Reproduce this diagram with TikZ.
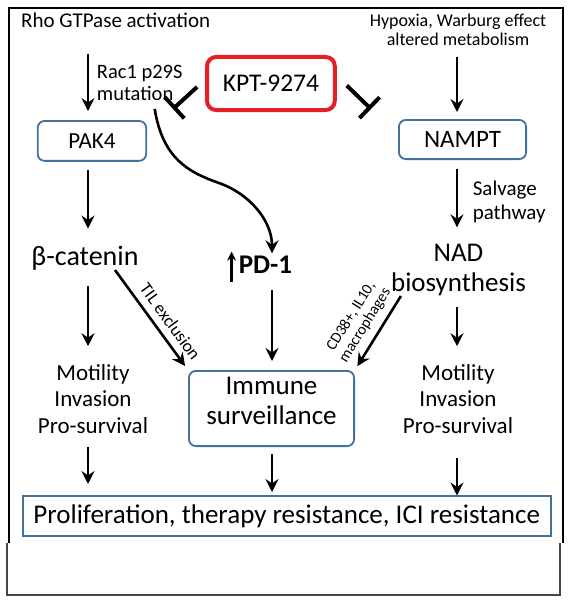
\documentclass[tikz,border=0pt]{standalone}
\usepackage{fontspec}
\setmainfont{Carlito}
\usepackage{tikz}
\usetikzlibrary{arrows.meta, positioning}
\usepackage{xcolor}
\definecolor{BoxBlue}{RGB}{65, 113, 156}
\definecolor{KptRed}{RGB}{228, 32, 38}
\definecolor{RichBlack}{RGB}{0, 0, 0}
\definecolor{FrameGrey}{RGB}{70, 70, 70}
\tikzset{%
  path_block/.style={%
    rectangle,%
    rounded corners=7pt,%
    draw=BoxBlue,%
    line width=1.8pt,%
    fill=white,%
    inner sep=0pt,%
    align=center,%
  },
  result_block/.style={%
    rectangle,%
    draw=BoxBlue,%
    line width=2pt,%
    inner sep=0pt,%
    font={\fontsize{27}{30}\selectfont},%
  },
  drug_block/.style={%
    rectangle,%
    rounded corners=9pt,%
    draw=KptRed,%
    line width=4pt,%
    fill=white,%
    inner sep=0pt,%
    font={\fontsize{25.5}{28}\selectfont},%
  },
  plain_text/.style={%
    inner sep=0pt,%
    align=center,%
  },
  edge_annotate/.style={%
    color=RichBlack,%
    align=center,%
  },
  arrow/.style={%
    -{Stealth[length=13pt, width=13pt, inset=4.5pt]},%
    line width=2.6pt,%
    color=RichBlack,%
  },
  small_arrow/.style={%
    -{Stealth[length=9pt, width=9pt, inset=3pt]},%
    line width=2.4pt,%
    color=RichBlack,%
  },
  inhibit/.style={%
    -{Bar[width=29pt]},%
    line width=4pt,%
    color=RichBlack,%
  },
}

\begin{document}
\begin{tikzpicture}[x=1pt, y=-1pt]
  \useasboundingbox (0,0) rectangle (572,602);

  % outer frame
  \draw [line width=2.8pt, RichBlack] (9,543) -- (9,8) -- (563,8) -- (563,543);
  \draw [line width=1.2pt, FrameGrey] (7,543) -- (7,595) -- (560,595) -- (560,543);

  % columns of the vertical arrows
  \coordinate (colL) at (88,0);
  \coordinate (colM) at (272,0);
  \coordinate (colR) at (457,0);

  % inputs
  \node [plain_text, anchor=base west, font={\fontsize{21}{24}\selectfont}]
    (rho) at (21,28) {Rho GTPase activation};
  \node [plain_text, font={\fontsize{18}{19}\selectfont}]
    (hypoxia) at (458,30) {Hypoxia, Warburg effect\\altered metabolism};
  \node [plain_text, anchor=west, align=left, font={\fontsize{20.5}{22}\selectfont}]
    (rac) at (96.7,83) {Rac1 p29S\\mutation};

  % drug and targets
  \node [drug_block, minimum width=127.7pt, minimum height=53pt]
    (kpt) at (270.9,83.5) {KPT-9274};
  \node [path_block, minimum width=108.5pt, minimum height=39.9pt,
    font={\fontsize{23}{26}\selectfont}] (pak4) at (91.9,140.9) {PAK4};
  \node [path_block, minimum width=127.2pt, minimum height=39.2pt,
    font={\fontsize{25}{28}\selectfont}] (nampt) at (462.5,139.5) {NAMPT};

  % middle row
  \node [plain_text, anchor=base, font={\fontsize{28}{30}\selectfont}]
    (beta) at (85,265) {β-catenin};
  \node [plain_text, anchor=base, font={\bfseries\fontsize{27}{30}\selectfont}]
    (pd1) at (265.5,273) {PD-1};
  \node [plain_text, anchor=west, align=left, font={\fontsize{21}{23.5}\selectfont}]
    (salvage) at (472.6,202) {Salvage\\pathway};
  \node [plain_text, font={\fontsize{27}{30}\selectfont}]
    (nad) at (458.5,270) {NAD\\biosynthesis};

  % outcomes
  \node [plain_text, font={\fontsize{23}{26.5}\selectfont}]
    (motL) at (93,399) {Motility\\Invasion\\Pro-survival};
  \node [plain_text, font={\fontsize{23}{26.5}\selectfont}]
    (motR) at (458,399) {Motility\\Invasion\\Pro-survival};
  \node [path_block, minimum width=165.2pt, minimum height=75.2pt,
    font={\fontsize{27}{30}\selectfont}]
    (immune) at (271.5,408.5) {Immune\\surveillance\rule[-16pt]{0pt}{16pt}};
  \node [result_block, minimum width=528pt, minimum height=40pt]
    (result) at (286.7,516) {Proliferation, therapy resistance, ICI resistance};

  % inhibition by the drug
  \coordinate (pak_block) at (173,109);
  \coordinate (nampt_block) at (371,109);
  \draw [inhibit] ([shift={(-8,3.5)}]kpt.west) -- (pak_block);
  \draw [inhibit] ([shift={(10,2)}]kpt.east) -- (nampt_block);

  % upstream arrows
  \draw [arrow, shorten <=25.6pt, shorten >=9pt]
    (rho.south -| colL) -- (pak4.north -| colL);
  \draw [arrow, shorten <=11pt, shorten >=7pt]
    (hypoxia.south -| colR) -- (nampt.north -| colR);
  \draw [arrow, shorten >=2pt]
    ([shift={(15,8)}]rac.south)
    .. controls +(8,50) and +(-30,-10.5) ..
    (219,183)
    .. controls +(30,10.5) and +(0,-35) ..
    (pd1.north -| colM);

  % left column
  \draw [arrow, shorten <=8pt, shorten >=17pt]
    (pak4.south -| colL) -- (beta.north -| colL);
  \draw [arrow, shorten <=16pt, shorten >=18pt]
    (beta.south -| colL) -- (motL.north -| colL);
  \draw [arrow, shorten <=13pt, shorten >=11pt]
    (motL.south -| colL) -- (result.north -| colL);

  % right column
  \draw [arrow, shorten <=9pt, shorten >=16.6pt]
    (nampt.south -| colR) -- (nad.north -| colR);
  \draw [arrow, shorten <=10.6pt, shorten >=18pt]
    (nad.south -| colR) -- (motR.north -| colR);
  \draw [arrow, shorten <=24pt, shorten >=-0.5pt]
    (motR.south -| colR) -- (result.north -| colR);

  % middle column
  \draw [small_arrow]
    ([shift={(-7,9)}]pd1.south west) -- ([shift={(-7,-3.6)}]pd1.north west);
  \draw [arrow, shorten <=17pt, shorten >=9pt]
    (pd1.south -| colM) -- (immune.north -| colM);
  \draw [arrow, shorten <=7pt, shorten >=3pt]
    (immune.south -| colM) -- (result.north -| colM);

  % immune modulation
  \draw [arrow, shorten >=5pt]
    ([xshift=30pt]beta.south) -- (immune.north west)
    node [edge_annotate, pos=0.6, sloped, above, inner sep=7pt,
      font={\fontsize{17.5}{19}\selectfont}] {TIL exclusion};
  \draw [arrow, shorten >=4.5pt]
    ([xshift=10pt]nad.south west) -- (immune.north east)
    node [edge_annotate, pos=0.5, sloped, above, inner sep=7pt,
      font={\fontsize{15.5}{16.5}\selectfont}] {CD38+, IL10,\\macrophages};
\end{tikzpicture}
\end{document}
